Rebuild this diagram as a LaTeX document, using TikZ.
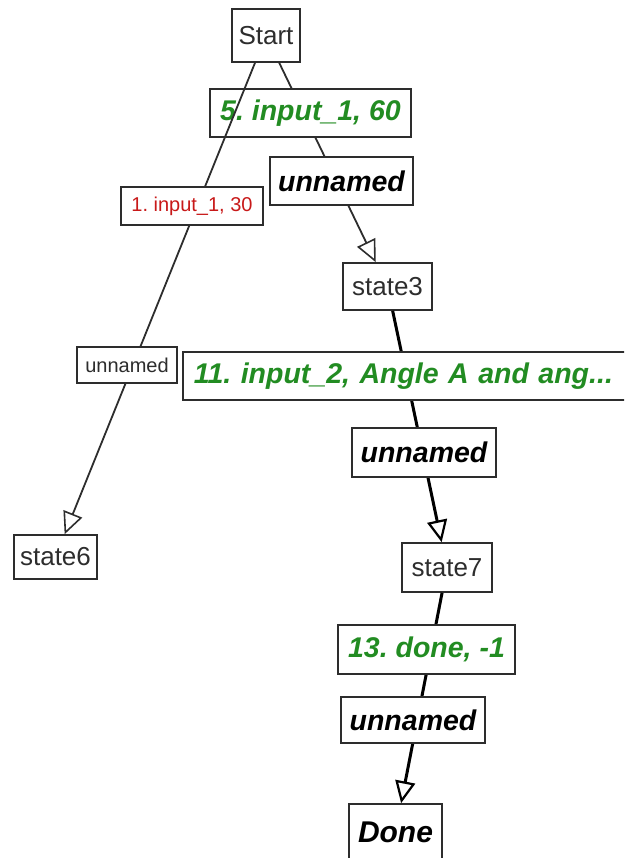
\documentclass[tikz,border=0pt]{standalone}
\usepackage{fontspec}
\setmainfont{Liberation Sans}
\usetikzlibrary{arrows.meta}
\frenchspacing
\definecolor{lblgreen}{RGB}{34,140,34}
\definecolor{lblred}{RGB}{200,25,25}
\definecolor{boxgray}{RGB}{45,45,45}
\tikzset{
  statebox/.style={draw=boxgray,line width=1.6pt,fill=white,inner sep=0pt,text=boxgray,font=\fontsize{26}{26}\selectfont},
  biglabel/.style={draw=boxgray,line width=1.6pt,fill=white,inner sep=0pt,text=black,font=\fontsize{28.5}{28.5}\selectfont\bfseries\itshape},
  smalllabel/.style={draw=boxgray,line width=1.4pt,fill=white,inner sep=0pt,text=boxgray,font=\fontsize{20}{20}\selectfont},
  thinedge/.style={line width=1.8pt,draw=boxgray,-{Triangle[open,length=22pt,width=20pt,line width=1.6pt]}},
  thickedge/.style={line width=3pt,draw=black,-{Triangle[open,length=22pt,width=20pt,line width=2.2pt]}}
}
\begin{document}
\begin{tikzpicture}[x=1pt,y=-1pt]
\useasboundingbox (0,0) rectangle (624,858);
\clip (0,0) rectangle (624,858);
\node[statebox,minimum width=68,minimum height=53] (start) at (266,35.5) {Start};
\node[statebox,minimum width=89,minimum height=47] (state3) at (387.5,286.5) {state3};
\node[statebox,minimum width=83,minimum height=44] (state6) at (55.5,557) {state6};
\node[statebox,minimum width=90,minimum height=49] (state7) at (447,567.5) {state7};
\node[biglabel,minimum width=93,minimum height=56,font=\fontsize{30}{30}\selectfont\bfseries\itshape] (done) at (395.5,832) {Done};
\draw[thinedge] (start) -- (state3);
\node[biglabel,text=lblgreen,minimum width=201,minimum height=48] (in5) at (310.5,113) {5. input\_1, 60};
\node[biglabel,minimum width=143,minimum height=48] (unnamedA) at (341.5,181) {unnamed};
\draw[thinedge] (start) -- (state6);
\node[smalllabel,text=lblred,minimum width=142,minimum height=38] (in1) at (192,206) {1. input\_1, 30};
\node[smalllabel,minimum width=100,minimum height=36] (unnamedB) at (127,365) {unnamed};
\draw[thickedge] (state3) -- (state7);
\node[biglabel,text=lblgreen,anchor=west,inner xsep=11pt,text width=440pt,align=left,minimum height=48] (in11) at (182,376) {11. input\_2, Angle A and ang...};
\node[biglabel,minimum width=144,minimum height=49] (unnamedC) at (424,452.5) {unnamed};
\draw[thickedge] (state7) -- (done);
\node[biglabel,text=lblgreen,minimum width=177,minimum height=49] (in13) at (426.5,649.5) {13. done, -1};
\node[biglabel,minimum width=144,minimum height=46] (unnamedD) at (413,720) {unnamed};
\end{tikzpicture}
\end{document}
